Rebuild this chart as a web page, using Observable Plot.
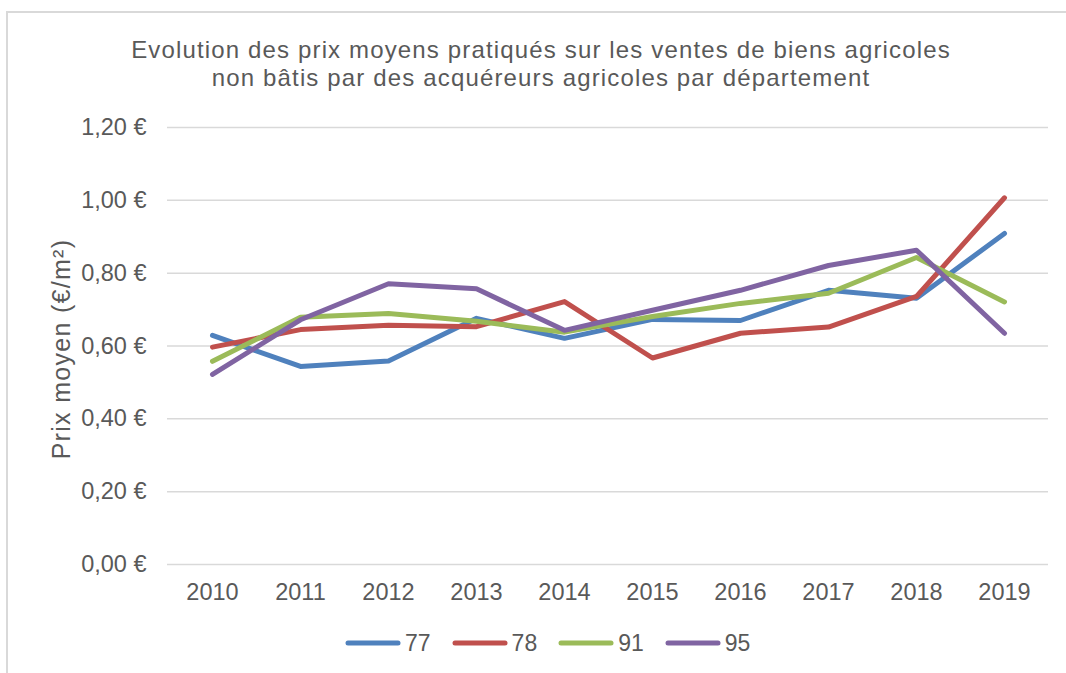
<!DOCTYPE html>
<html>
<head>
<meta charset="utf-8">
<script src="https://cdn.jsdelivr.net/npm/d3@7"></script>
<script src="https://cdn.jsdelivr.net/npm/@observablehq/plot@0.6"></script>
<style>
  html, body { margin: 0; padding: 0; background: #ffffff; }
  #wrap { position: relative; width: 1066px; height: 673px; overflow: hidden; font-family: "Liberation Sans", Arial, sans-serif; color: #595959; }
  #frame { position: absolute; left: 6px; top: 11px; width: 1200px; height: 800px; border-left: 2px solid #D9D9D9; border-top: 2px solid #D9D9D9; }
  #title { position: absolute; left: 0; top: 36px; width: 1082px; text-align: center; font-size: 24px; line-height: 28px; letter-spacing: 1.15px; }
  #chart { position: absolute; left: 0; top: 0; }
  #legend { position: absolute; left: 345px; top: 629px; display: flex; gap: 21px; font-size: 23px; line-height: 28px; }
  .item { display: flex; align-items: center; gap: 4px; }
</style>
</head>
<body>
<div id="wrap">
  <div id="frame"></div>
  <div id="chart"></div>
  <div id="title">Evolution des prix moyens pratiqués sur les ventes de biens agricoles<br>non bâtis par des acquéreurs agricoles par département</div>
  <div id="legend"></div>
</div>
<script>
const years = [2010, 2011, 2012, 2013, 2014, 2015, 2016, 2017, 2018, 2019];
const series = ["77", "78", "91", "95"];
const colors = ["#4F81BD", "#C0504D", "#9BBB59", "#8064A2"];
const s77 = [0.629, 0.544, 0.559, 0.676, 0.621, 0.673, 0.670, 0.753, 0.731, 0.909];
const s78 = [0.597, 0.645, 0.657, 0.653, 0.722, 0.567, 0.635, 0.652, 0.736, 1.007];
const s91 = [0.558, 0.679, 0.689, 0.668, 0.638, 0.681, 0.717, 0.745, 0.843, 0.721];
const s95 = [0.522, 0.672, 0.771, 0.757, 0.643, 0.698, 0.753, 0.821, 0.863, 0.635];
const yTicks = [0, 0.2, 0.4, 0.6, 0.8, 1.0, 1.2];
const yLabel = "Prix moyen (€/m²)";

const values = [s77, s78, s91, s95];
const data = series.flatMap((s, i) => years.map((yr, j) => ({dept: s, year: yr, value: values[i][j]})));

const fmtEuro = d => d.toFixed(2).replace(".", ",") + "\u00a0€";

const chart = Plot.plot({
  width: 1066,
  height: 673,
  marginLeft: 167,
  marginRight: 18,
  marginTop: 127,
  marginBottom: 109,
  style: {fontFamily: "'Liberation Sans', Arial, sans-serif", fontSize: "23.5px", color: "#595959", background: "transparent", overflow: "visible"},
  x: {type: "point", domain: years, padding: 0.5, label: null, tickSize: 0, tickPadding: 19, tickFormat: d => String(d)},
  y: {domain: [0, 1.2], ticks: yTicks, tickFormat: fmtEuro, tickSize: 0, tickPadding: 21, label: null},
  color: {domain: series, range: colors},
  marks: [
    Plot.ruleY(yTicks, {stroke: "#D9D9D9", strokeWidth: 1.5}),
    Plot.line(data, {x: "year", y: "value", z: "dept", stroke: "dept", strokeWidth: 5, strokeLinecap: "round", strokeLinejoin: "round"}),
    Plot.text([yLabel], {frameAnchor: "left", textAnchor: "middle", dx: -106, dy: 3, rotate: -90, fontSize: 25, fill: "#595959"})
  ]
});
chart.querySelectorAll('g[aria-label="text"] text').forEach(t => { t.style.letterSpacing = "1.3px"; });
document.getElementById("chart").appendChild(chart);

const legend = document.getElementById("legend");
series.forEach((s, i) => {
  const item = document.createElement("div");
  item.className = "item";
  item.innerHTML = `<svg width="56" height="10"><line x1="3" y1="5" x2="53" y2="5" stroke="${colors[i]}" stroke-width="5" stroke-linecap="round"/></svg><span>${s}</span>`;
  legend.appendChild(item);
});
</script>
</body>
</html>
